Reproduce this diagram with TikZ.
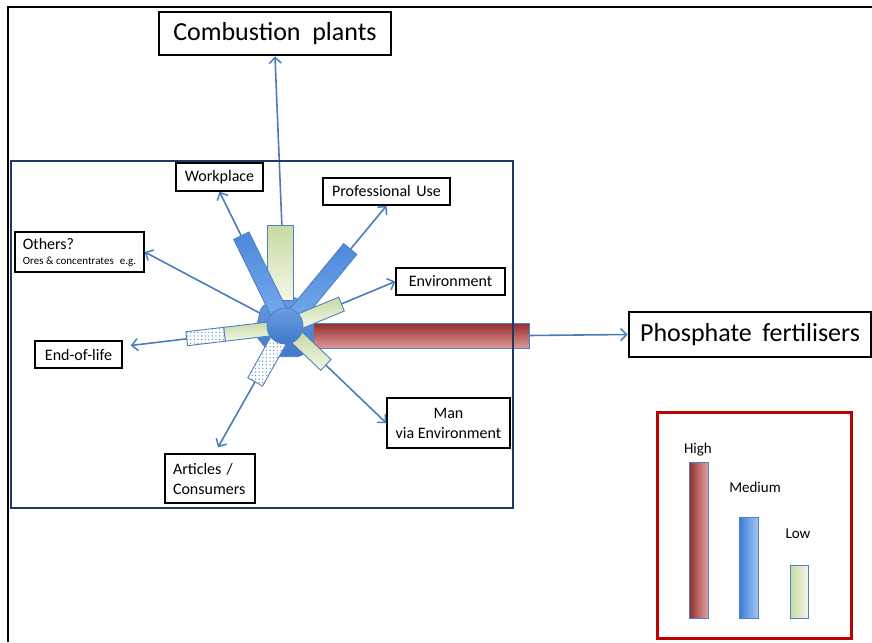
\documentclass[tikz,border=0pt]{standalone}
\usepackage{fontspec}
\setmainfont{Carlito}
\usetikzlibrary{arrows.meta,shapes.geometric,patterns.meta}

\definecolor{connblue}{HTML}{4A7EBB}
\definecolor{barline}{HTML}{4F81BD}
\definecolor{blueA}{HTML}{4D89DC}
\definecolor{blueB}{HTML}{74A8EC}
\definecolor{lblueA}{HTML}{3F7BD6}
\definecolor{lblueB}{HTML}{A3C6F5}
\definecolor{greenA}{HTML}{C8DAA2}
\definecolor{greenB}{HTML}{F3F7E8}
\definecolor{redA}{HTML}{922E2E}
\definecolor{redM}{HTML}{C0504D}
\definecolor{redB}{HTML}{DE9896}
\definecolor{hubA}{HTML}{6A9BE2}
\definecolor{hubB}{HTML}{4079CC}
\definecolor{navy}{HTML}{1F3864}
\definecolor{legred}{HTML}{C00000}

\begin{document}
\begin{tikzpicture}[x=1pt,y=-1pt,
  box/.style={draw=black, line width=1.4pt, fill=white, inner sep=0pt,
    font=\fontsize{16}{20}\selectfont},
  bigbox/.style={draw=black, line width=2.6pt, fill=white, inner sep=0pt,
    font=\fontsize{26}{30}\selectfont},
  conn/.style={draw=connblue, line width=1.6pt,
    -{Straight Barb[length=6pt,width=12pt,line width=1.5pt]}},
  barbase/.style={draw=barline, line width=0.9pt, inner sep=0pt, outer sep=0pt},
  bluebar/.style={barbase, top color=blueA, bottom color=blueB},
  greenbar/.style={barbase, top color=greenA, bottom color=greenB},
  redbar/.style={barbase, top color=redA, middle color=redM, bottom color=redB},
  dotbar/.style={barbase, preaction={fill=white},
    pattern={Dots[distance=3.6pt, radius=0.65pt]}, pattern color=barline},
  legbar/.style={draw=barline, line width=0.9pt, inner sep=0pt, minimum width=19pt},
  legtxt/.style={font=\fontsize{15}{18}\selectfont, inner sep=0pt}
]
\useasboundingbox (0,0) rectangle (872,642);
\fill[white] (0,0) rectangle (872,642);

% outer frame (top and left edges)
\draw[line width=2.5pt, line join=miter] (8,642) -- (8,7) -- (872,7);

% destination boxes
\node[bigbox, minimum width=232pt, minimum height=43pt] (comb) at (275,33.5)
  {Combustion\hspace{0.45em}plants};
\node[bigbox, minimum width=242pt, minimum height=45pt] (phos) at (750,334.5)
  {Phosphate\hspace{0.4em}fertilisers};
\node[box, minimum width=87pt, minimum height=28pt] (wp) at (219.5,177) {Workplace};
\node[box, minimum width=127pt, minimum height=27pt] (pu) at (386.5,191.5)
  {Professional\hspace{0.35em}Use};
\node[box, minimum width=109pt, minimum height=27pt] (env) at (450.5,281.5) {Environment};
\node[box, minimum width=123pt, minimum height=50pt, align=center] (man) at (448.5,423)
  {Man\\via Environment};
\node[box, minimum width=90pt, minimum height=49pt, text width=74pt, align=left] (art)
  at (210,478.5) {Articles /\\Consumers};
\node[box, minimum width=87pt, minimum height=27pt] (eol) at (78.5,354.5) {End-of-life};
\node[box, minimum width=129pt, minimum height=40pt, align=left] (oth)
  at (79.5,252) {Others?\\[-5pt]{\fontsize{11}{13}\selectfont Ores \& concentrates\hspace{0.55em}e.g.}};

% hub centre and connectors radiating from it
\coordinate (hc) at (286,327);
\draw[conn] (hc) -- (comb.south);
\draw[conn] (hc) -- (wp.south);
\draw[conn] (hc) -- (pu.south);
\draw[conn] (hc) -- (env.west);
\draw[conn] (hc) -- (man.west);
\draw[conn] (hc) -- ([shift={(8,-6)}]art.north);
\draw[conn] (hc) -- ([shift={(8,-9)}]eol.east);
\draw[conn] (hc) -- (oth.east);

% hub body
\node[regular polygon, regular polygon sides=7, minimum size=66pt, inner sep=0pt,
  draw=barline, line width=0.8pt, rounded corners=5pt,
  top color=hubA, bottom color=hubB] (hub) at (287,327) {};

% exposure bars
\node[greenbar, minimum width=75pt, minimum height=26pt, rotate=90] (cbbar) at (280,262.5) {};
\node[bluebar, minimum width=85.3pt, minimum height=17pt, rotate=116.1] (wpbar) at (260.1,274) {};
\node[bluebar, minimum width=86pt, minimum height=17pt, rotate=50.5] (pubar) at (322.9,282.2) {};
\node[redbar, minimum width=216pt, minimum height=25pt] (phbar) at (421,335.5) {};
\node[greenbar, minimum width=45pt, minimum height=15pt, rotate=22.5] (envbar) at (320.7,312.7) {};
\node[greenbar, minimum width=40pt, minimum height=15pt, rotate=-43.5] (manbar) at (311.4,351.1) {};
\node[dotbar, minimum width=48pt, minimum height=17pt, rotate=-119.3] (artbar) at (266.9,361) {};
\node[greenbar, minimum width=47pt, minimum height=14pt, rotate=186.8] (eolbar) at (247.8,331.5) {};
\node[dotbar, minimum width=38pt, minimum height=14pt, rotate=186.8] (eoldots) at (205.6,336.5) {};

% hub core
\node[circle, minimum size=36pt, inner sep=0pt, draw=barline, line width=0.8pt,
  top color=hubA, bottom color=hubB] (core) at (285,326) {};

\draw[conn] (phbar.east) -- (phos.west);

% scope frame
\draw[navy, line width=1.3pt] (11,161) rectangle (513,508);

% legend
\draw[legred, line width=3pt] (657,412) rectangle (851,638);
\node[legbar, minimum height=156pt, left color=redA, right color=redB!90] (lhigh) at (698.5,540) {};
\node[legbar, minimum height=101pt, left color=lblueA, right color=lblueB] (lmed) at (748.5,567.5) {};
\node[legbar, minimum height=53pt, minimum width=18pt, left color=greenA, right color=greenB] (llow) at (799,591.5) {};
\node[legtxt] (thigh) at (698,450) {High};
\node[legtxt] (tmed) at (755,487) {Medium};
\node[legtxt] (tlow) at (798,534) {Low};
\end{tikzpicture}
\end{document}
